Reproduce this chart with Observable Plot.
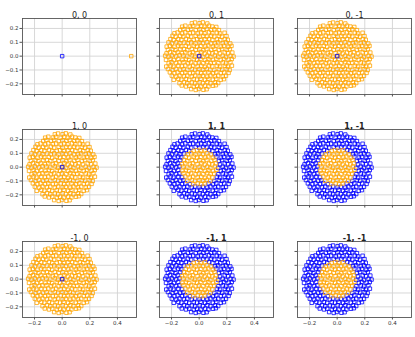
<!DOCTYPE html>
<html><head><meta charset="utf-8">
<script src="https://cdn.jsdelivr.net/npm/d3@7"></script>
<script src="https://cdn.jsdelivr.net/npm/@observablehq/plot@0.6"></script>
<style>
body{margin:0;background:#fff;}
#chart{position:relative;width:415px;height:337px;overflow:hidden;font-family:"DejaVu Sans",sans-serif;}
#chart svg{position:absolute;overflow:visible;}
</style></head><body><div id="chart"></div>
<script>
const panelTitles = ["0, 0","0, 1","0, -1","1, 0","1, 1","1, -1","-1, 0","-1, 1","-1, -1"];
const boldTitles = ["1, 1","1, -1","-1, 1","-1, -1"];
const panelKinds = ["single","disk","disk","disk","ring","ring","disk","ring","ring"];
const xTicks = [-0.2, 0, 0.2, 0.4];
const yTicks = [-0.2, -0.1, 0, 0.1, 0.2];
const centerBlue = [[0, 0]];
const farOrange = [[0.5, 0]];
const corePts = [
[-0.115,0.004],[-0.086,-0.003],[-0.053,0.006],[-0.031,-0.005],[0.003,0.002],[0.025,-0.004],[0.059,0.003],[0.081,-0.006],[0.114,0.005],
[-0.124,0.021],[-0.1,0.028],[-0.067,0.02],[-0.045,0.027],[-0.012,0.022],[0.017,0.029],[0.04,0.019],[0.073,0.026],[0.095,0.02],[0.122,0.027],
[-0.121,-0.027],[-0.096,-0.02],[-0.073,-0.029],[-0.039,-0.021],[-0.016,-0.026],[0.011,-0.02],[0.045,-0.028],[0.068,-0.022],[0.101,-0.027],[0.125,-0.019],
[-0.109,0.051],[-0.087,0.044],[-0.054,0.052],[-0.025,0.045],[0.002,0.05],[0.031,0.043],[0.053,0.052],[0.088,0.046],[0.111,0.053],
[-0.113,-0.044],[-0.081,-0.051],[-0.059,-0.045],[-0.026,-0.052],[-0.003,-0.046],[0.029,-0.051],[0.058,-0.043],[0.083,-0.05],[0.108,-0.047],
[-0.096,0.075],[-0.072,0.068],[-0.039,0.076],[-0.016,0.069],[0.013,0.074],[0.045,0.07],[0.067,0.077],[0.1,0.069],
[-0.1,-0.068],[-0.068,-0.076],[-0.044,-0.069],[-0.011,-0.075],[0.016,-0.07],[0.041,-0.077],[0.072,-0.068],[0.095,-0.074],
[-0.082,0.093],[-0.058,0.1],[-0.027,0.092],[0.003,0.099],[0.026,0.094],[0.057,0.1],[0.085,0.092],
[-0.086,-0.099],[-0.053,-0.092],[-0.03,-0.1],[-0.001,-0.094],[0.03,-0.098],[0.054,-0.093],[0.08,-0.1],
[-0.04,0.117],[-0.015,0.123],[0.012,0.118],[0.043,0.122],
[-0.044,-0.122],[-0.011,-0.117],[0.016,-0.123],[0.039,-0.118]
];
const ringPts = [
[-0.246,0.003],[-0.221,-0.004],[-0.198,0.005],[-0.166,-0.002],[-0.142,0.006],[0.138,-0.005],[0.17,0.003],[0.193,-0.006],[0.227,0.002],[0.249,-0.003],
[-0.236,0.02],[-0.212,0.028],[-0.179,0.021],[-0.156,0.027],[0.151,0.02],[0.185,0.027],[0.208,0.021],[0.24,0.026],
[-0.24,-0.027],[-0.207,-0.02],[-0.184,-0.028],[-0.152,-0.021],[0.157,-0.028],[0.179,-0.02],[0.213,-0.026],[0.236,-0.021],
[-0.226,0.045],[-0.193,0.052],[-0.171,0.044],[-0.137,0.051],[0.143,0.044],[0.165,0.052],[0.199,0.046],[0.222,0.051],
[-0.221,-0.052],[-0.199,-0.044],[-0.165,-0.05],[-0.143,-0.045],[0.139,-0.051],[0.171,-0.046],[0.194,-0.053],[0.226,-0.044],
[-0.235,0.069],[-0.213,0.075],[-0.18,0.068],[-0.151,0.076],[-0.129,0.07],[0.124,0.076],[0.157,0.069],[0.179,0.075],[0.212,0.068],[0.234,0.074],
[-0.238,-0.075],[-0.207,-0.068],[-0.185,-0.076],[-0.152,-0.069],[-0.124,-0.074],[0.128,-0.069],[0.151,-0.076],[0.186,-0.07],[0.207,-0.075],[0.237,-0.069],
[-0.222,0.099],[-0.198,0.092],[-0.165,0.1],[-0.142,0.093],[-0.109,0.098],[0.115,0.093],[0.137,0.1],[0.171,0.094],[0.193,0.099],[0.225,0.092],
[-0.226,-0.093],[-0.193,-0.1],[-0.17,-0.092],[-0.137,-0.099],[-0.114,-0.094],[0.11,-0.1],[0.143,-0.093],[0.166,-0.098],[0.199,-0.094],[0.221,-0.1],
[-0.208,0.123],[-0.184,0.117],[-0.151,0.122],[-0.128,0.118],[-0.095,0.124],[-0.072,0.117],[0.073,0.123],[0.096,0.118],[0.129,0.121],[0.152,0.116],[0.185,0.123],[0.207,0.118],
[-0.212,-0.117],[-0.179,-0.123],[-0.156,-0.118],[-0.123,-0.122],[-0.1,-0.117],[-0.067,-0.123],[0.069,-0.118],[0.101,-0.124],[0.124,-0.117],[0.157,-0.122],[0.18,-0.118],[0.213,-0.121],
[-0.193,0.147],[-0.17,0.14],[-0.137,0.146],[-0.114,0.141],[-0.081,0.148],[-0.058,0.141],[-0.025,0.147],[0.002,0.14],[0.031,0.146],[0.054,0.142],[0.087,0.148],[0.11,0.141],[0.143,0.147],[0.165,0.14],[0.198,0.145],
[-0.198,-0.141],[-0.165,-0.148],[-0.142,-0.14],[-0.109,-0.146],[-0.086,-0.141],[-0.053,-0.147],[-0.03,-0.14],[0.003,-0.146],[0.026,-0.142],[0.059,-0.148],[0.082,-0.14],[0.115,-0.146],[0.138,-0.141],[0.171,-0.147],[0.194,-0.142],
[-0.179,0.165],[-0.156,0.171],[-0.123,0.164],[-0.1,0.172],[-0.067,0.166],[-0.044,0.17],[-0.011,0.164],[0.016,0.171],[0.039,0.165],[0.072,0.172],[0.095,0.166],[0.128,0.17],[0.151,0.164],[0.184,0.169],
[-0.184,-0.171],[-0.151,-0.164],[-0.128,-0.17],[-0.095,-0.165],[-0.072,-0.172],[-0.039,-0.166],[-0.016,-0.17],[0.011,-0.164],[0.044,-0.171],[0.067,-0.165],[0.1,-0.17],[0.123,-0.164],[0.156,-0.171],[0.179,-0.166],
[-0.137,0.189],[-0.114,0.196],[-0.081,0.19],[-0.058,0.197],[-0.025,0.188],[0.002,0.195],[0.031,0.19],[0.054,0.197],[0.087,0.189],[0.11,0.194],[0.143,0.188],
[-0.142,-0.195],[-0.109,-0.188],[-0.086,-0.196],[-0.053,-0.19],[-0.03,-0.197],[0.003,-0.189],[0.026,-0.195],[0.059,-0.188],[0.082,-0.196],[0.115,-0.19],[0.138,-0.194],
[-0.123,0.213],[-0.1,0.22],[-0.067,0.214],[-0.044,0.219],[-0.011,0.212],[0.016,0.219],[0.039,0.213],[0.072,0.22],[0.095,0.214],[0.124,0.211],
[-0.126,-0.212],[-0.095,-0.219],[-0.072,-0.213],[-0.039,-0.22],[-0.016,-0.214],[0.011,-0.22],[0.044,-0.213],[0.067,-0.219],[0.1,-0.214],[0.121,-0.21],
[-0.053,0.237],[-0.03,0.243],[0.003,0.238],[0.026,0.244],[0.059,0.236],
[-0.058,-0.238],[-0.025,-0.244],[-0.002,-0.237],[0.031,-0.243],[0.054,-0.239]
];

const colLeft = [22, 159, 297];
const rowTop = [18, 129, 241];
const PW = 114, PH = 76;
const mL = 26, mR = 4, mT = 16, mB = 14;
const fmt = d3.format(".1f");
const BLUE = "#0000ff", ORANGE = "#ffa500";
const container = document.getElementById("chart");

function dots(data, color) {
  return Plot.dot(data, {x: d => d[0], y: d => d[1], symbol: "square", r: 1.95, stroke: color, strokeWidth: 0.8, fill: "none"});
}

panelTitles.forEach((title, i) => {
  const row = Math.floor(i / 3), col = i % 3;
  const kind = panelKinds[i];
  let dataMarks;
  if (kind === "single") dataMarks = [dots(centerBlue, BLUE), dots(farOrange, ORANGE)];
  else if (kind === "disk") dataMarks = [dots(ringPts.concat(corePts), ORANGE), dots(centerBlue, BLUE)];
  else dataMarks = [dots(ringPts, BLUE), dots(corePts, ORANGE)];
  const svg = Plot.plot({
    width: PW + mL + mR, height: PH + mT + mB,
    marginLeft: mL, marginRight: mR, marginTop: mT, marginBottom: mB,
    style: {fontFamily: "'DejaVu Sans', sans-serif", fontSize: "5.5px", color: "#333", background: "transparent", overflow: "visible"},
    x: {domain: [-0.287, 0.538]},
    y: {domain: [-0.277, 0.272]},
    marks: [
      Plot.gridX(xTicks, {stroke: "#d4d4d4", strokeOpacity: 1, strokeWidth: 0.9}),
      Plot.gridY(yTicks, {stroke: "#d4d4d4", strokeOpacity: 1, strokeWidth: 0.9}),
      ...dataMarks,
      Plot.frame({stroke: "#555", strokeWidth: 0.9}),
      Plot.axisX(xTicks, {tickSize: 2.5, tickPadding: 1.5, tickFormat: row === 2 ? fmt : () => "", stroke: "#555"}),
      Plot.axisY(yTicks, {tickSize: 2.5, tickPadding: 1.5, tickFormat: col === 0 ? fmt : () => "", stroke: "#555"}),
      Plot.text([title], {frameAnchor: "top", dy: -6, fontSize: 8, fill: "#222", fontWeight: boldTitles.includes(title) ? "bold" : "normal"})
    ]
  });
  svg.style.left = (colLeft[col] - mL) + "px";
  svg.style.top = (rowTop[row] - mT) + "px";
  container.appendChild(svg);
});
</script></body></html>
